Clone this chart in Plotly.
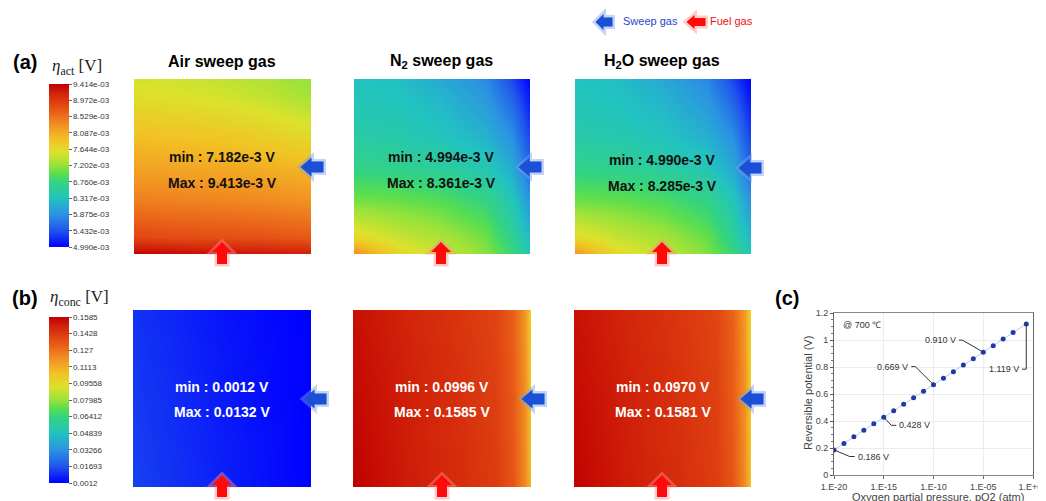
import plotly.graph_objects as go

W, H = 1046, 501          # size of the reference picture
OFF = 8                   # page body margin of the html page
FW, FH = W - OFF, H - OFF  # figure size so that it ends at the window edge

# ---------------- colour scale (rainbow, as in the colour bars) ----------------
RAINBOW = [
    [0.00, "#0000ff"], [0.10, "#1f55ec"], [0.20, "#2b93e2"], [0.30, "#22c3c0"],
    [0.40, "#34d47e"], [0.45, "#5ade4e"], [0.50, "#98e23a"], [0.58, "#dbe22c"],
    [0.66, "#f2c224"], [0.75, "#f28f22"], [0.85, "#e65216"], [0.94, "#d2240a"],
    [1.00, "#c00000"],
]

# ---------------- colour-bar ticks ----------------
ACT_TICKVALS = [4.990, 5.432, 5.875, 6.317, 6.760, 7.202, 7.644, 8.087, 8.529, 8.972, 9.414]  # mV
ACT_TICKTEXT = ["4.990e-03", "5.432e-03", "5.875e-03", "6.317e-03", "6.760e-03", "7.202e-03",
                "7.644e-03", "8.087e-03", "8.529e-03", "8.972e-03", "9.414e-03"]
CONC_TICKVALS = [0.0012, 0.01693, 0.03266, 0.04839, 0.06412, 0.07985, 0.09558, 0.1113, 0.127, 0.1428, 0.1585]
CONC_TICKTEXT = ["0.0012", "0.01693", "0.03266", "0.04839", "0.06412", "0.07985", "0.09558",
                 "0.1113", "0.127", "0.1428", "0.1585"]

# ---------------- activation overpotential maps (mV), rows bottom -> top ----------------
AIR_ACT_X = [0.0, 0.25, 0.5, 0.75, 1.0]
AIR_ACT_Y = [0.0, 0.1, 0.3, 0.5, 0.7, 0.9, 1.0]
AIR_ACT_Z = [
    [9.41, 9.35, 9.30, 9.25, 9.20],
    [8.85, 8.80, 8.78, 8.75, 8.70],
    [8.45, 8.42, 8.40, 8.36, 8.30],
    [8.15, 8.12, 8.10, 8.05, 7.98],
    [7.90, 7.86, 7.82, 7.74, 7.62],
    [7.62, 7.58, 7.52, 7.42, 7.28],
    [7.52, 7.48, 7.42, 7.32, 7.18],
]

N2_ACT_X = [0.0, 0.25, 0.5, 0.75, 0.9, 1.0]
N2_ACT_Y = [0.0, 0.1, 0.3, 0.5, 0.7, 0.9, 1.0]
N2_ACT_Z = [
    [8.36, 7.70, 7.45, 7.15, 6.80, 6.40],
    [7.70, 7.45, 7.30, 7.05, 6.65, 6.20],
    [7.10, 7.05, 6.95, 6.75, 6.40, 5.90],
    [6.70, 6.65, 6.55, 6.40, 6.08, 5.55],
    [6.48, 6.43, 6.33, 6.13, 5.82, 5.30],
    [6.38, 6.33, 6.18, 5.92, 5.52, 5.10],
    [6.33, 6.28, 6.08, 5.82, 5.36, 4.99],
]

H2O_ACT_X = [0.0, 0.25, 0.5, 0.75, 0.9, 1.0]
H2O_ACT_Y = [0.0, 0.1, 0.3, 0.5, 0.7, 0.9, 1.0]
H2O_ACT_Z = [
    [8.28, 7.66, 7.42, 7.12, 6.78, 6.38],
    [7.66, 7.42, 7.27, 7.02, 6.62, 6.18],
    [7.07, 7.02, 6.92, 6.72, 6.38, 5.88],
    [6.68, 6.63, 6.53, 6.38, 6.06, 5.53],
    [6.46, 6.41, 6.31, 6.11, 5.80, 5.28],
    [6.36, 6.31, 6.16, 5.90, 5.50, 5.08],
    [6.31, 6.26, 6.06, 5.80, 5.34, 4.99],
]

# ---------------- concentration overpotential maps (V) ----------------
AIR_CONC_X = [0.0, 0.5, 1.0]
AIR_CONC_Y = [0.0, 0.5, 1.0]
AIR_CONC_Z = [
    [0.0132, 0.0070, 0.0012],
    [0.0120, 0.0060, 0.0012],
    [0.0105, 0.0050, 0.0012],
]

N2_CONC_X = [0.0, 0.3, 0.6, 0.8, 0.9, 0.96, 1.0]
N2_CONC_Y = [0.0, 0.5, 1.0]
N2_CONC_Z = [
    [0.1585, 0.1515, 0.1465, 0.1420, 0.1345, 0.1220, 0.1060],
    [0.1565, 0.1505, 0.1455, 0.1410, 0.1330, 0.1205, 0.1030],
    [0.1545, 0.1490, 0.1440, 0.1395, 0.1315, 0.1185, 0.0996],
]

H2O_CONC_X = [0.0, 0.3, 0.6, 0.8, 0.9, 0.96, 1.0]
H2O_CONC_Y = [0.0, 0.5, 1.0]
H2O_CONC_Z = [
    [0.1581, 0.1510, 0.1460, 0.1415, 0.1338, 0.1210, 0.1035],
    [0.1560, 0.1500, 0.1450, 0.1405, 0.1322, 0.1195, 0.1005],
    [0.1540, 0.1485, 0.1435, 0.1390, 0.1305, 0.1175, 0.0970],
]

# ---------------- panel (c): reversible potential vs pO2 ----------------
PO2 = [1e-20, 1e-19, 1e-18, 1e-17, 1e-16, 1e-15, 1e-14, 1e-13, 1e-12, 1e-11,
       1e-10, 1e-9, 1e-8, 1e-7, 1e-6, 1e-5, 1e-4, 1e-3, 1e-2, 0.21]
EREV = [0.186, 0.234, 0.283, 0.331, 0.379, 0.428, 0.476, 0.524, 0.572, 0.621,
        0.669, 0.717, 0.765, 0.814, 0.862, 0.910, 0.958, 1.007, 1.055, 1.119]
C_XTICKVALS = [1e-20, 1e-15, 1e-10, 1e-5, 1.0]
C_XTICKTEXT = ["1.E-20", "1.E-15", "1.E-10", "1.E-05", "1.E+00"]
C_YTICKVALS = [0, 0.2, 0.4, 0.6, 0.8, 1.0, 1.2]
C_YTICKTEXT = ["0", "0.2", "0.4", "0.6", "0.8", "1", "1.2"]

MAP_TITLES = ["Air sweep gas", "N<sub>2</sub> sweep gas", "H<sub>2</sub>O sweep gas"]
ACT_MINMAX = [("7.182e-3", "9.413e-3"), ("4.994e-3", "8.361e-3"), ("4.990e-3", "8.285e-3")]
CONC_MINMAX = [("0.0012", "0.0132"), ("0.0996", "0.1585"), ("0.0970", "0.1581")]

FONT = "Arial, Liberation Sans, sans-serif"


def fx(p):
    return (p - OFF) / FW


def fy(p):
    return 1 - (p - OFF) / FH


fig = go.Figure()

# map placement (pixels in the reference): (left, right, top, bottom)
ACT_BOXES = [(134, 311, 79, 254), (354, 530, 79, 254), (575, 751, 79, 254)]
CONC_BOXES = [(133, 311, 310, 487), (353, 531, 310, 487), (574, 751, 310, 487)]

act_maps = [(AIR_ACT_X, AIR_ACT_Y, AIR_ACT_Z), (N2_ACT_X, N2_ACT_Y, N2_ACT_Z), (H2O_ACT_X, H2O_ACT_Y, H2O_ACT_Z)]
conc_maps = [(AIR_CONC_X, AIR_CONC_Y, AIR_CONC_Z), (N2_CONC_X, N2_CONC_Y, N2_CONC_Z), (H2O_CONC_X, H2O_CONC_Y, H2O_CONC_Z)]

axis_i = 0
layout_axes = {}
for row, (maps, boxes, zmin, zmax, tv, tt, cb_y, cb_len) in enumerate([
        (act_maps, ACT_BOXES, 4.990, 9.414, ACT_TICKVALS, ACT_TICKTEXT, 165.5, 163),
        (conc_maps, CONC_BOXES, 0.0012, 0.1585, CONC_TICKVALS, CONC_TICKTEXT, 400, 166)]):
    for k, ((xs, ys, zs), (l, r, t, b)) in enumerate(zip(maps, boxes)):
        axis_i += 1
        suffix = "" if axis_i == 1 else str(axis_i)
        show = (k == 0)
        fig.add_trace(go.Heatmap(
            x=xs, y=ys, z=zs, zmin=zmin, zmax=zmax, colorscale=RAINBOW,
            zsmooth="best", showscale=show, hoverinfo="skip",
            xaxis="x" + suffix, yaxis="y" + suffix,
            colorbar=dict(
                x=fx(49), xanchor="left", y=fy(cb_y), yanchor="middle",
                len=cb_len, lenmode="pixels", thickness=20, thicknessmode="pixels",
                xpad=0, ypad=0, outlinewidth=0,
                tickmode="array", tickvals=tv, ticktext=tt,
                ticks="outside", ticklen=3, tickcolor="#666",
                tickfont=dict(family=FONT, size=8, color="#333"),
            ) if show else None,
        ))
        layout_axes["xaxis" + suffix] = dict(domain=[fx(l), fx(r)], range=[0, 1], visible=False,
                                             anchor="y" + suffix, fixedrange=True)
        layout_axes["yaxis" + suffix] = dict(domain=[fy(b), fy(t)], range=[0, 1], visible=False,
                                             anchor="x" + suffix, fixedrange=True)

# panel (c)
fig.add_trace(go.Scatter(
    x=PO2, y=EREV, mode="lines+markers", xaxis="x7", yaxis="y7",
    line=dict(color="#b4c8ee", width=1),
    marker=dict(color="#1f3aa8", size=5), hoverinfo="skip",
))

LEADERS = [
    ([1e-20, 10 ** -18.43, 10 ** -17.92], [0.186, 0.137, 0.137]),
    ([1e-15, 10 ** -14.24, 10 ** -13.74], [0.428, 0.368, 0.368]),
    ([1e-10, 10 ** -11.83, 10 ** -12.23], [0.669, 0.803, 0.803]),
    ([1e-5, 10 ** -7.10, 10 ** -7.44], [0.910, 0.999, 0.999]),
    ([0.21, 0.21, 10 ** -1.11], [1.119, 0.784, 0.784]),
]
for lx, ly in LEADERS:
    fig.add_trace(go.Scatter(x=lx, y=ly, mode="lines", xaxis="x7", yaxis="y7",
                             line=dict(color="#333", width=1), hoverinfo="skip"))

layout_axes["xaxis7"] = dict(
    domain=[fx(834), fx(1033)], type="log", range=[-20, 0], anchor="y7",
    tickmode="array", tickvals=C_XTICKVALS, ticktext=C_XTICKTEXT,
    ticks="outside", ticklen=3, tickcolor="#666", ticklabeloverflow="allow",
    showgrid=True, gridcolor="#ececec", gridwidth=1,
    showline=True, linecolor="#888", linewidth=1, mirror=True, zeroline=False,
    tickfont=dict(family=FONT, size=9, color="#444"),
    automargin=False, fixedrange=True,
)
layout_axes["yaxis7"] = dict(
    domain=[fy(475), fy(313)], range=[0, 1.2], anchor="x7",
    tickmode="array", tickvals=C_YTICKVALS, ticktext=C_YTICKTEXT,
    ticks="outside", ticklen=3, tickcolor="#555",
    minor=dict(ticks="outside", ticklen=2, tickcolor="#777", dtick=0.05, showgrid=False),
    showgrid=True, gridcolor="#ececec", gridwidth=1,
    showline=True, linecolor="#666", linewidth=1, mirror=True, zeroline=False,
    tickfont=dict(family=FONT, size=9, color="#444"),
    automargin=False, fixedrange=True,
)

ann = []


def paper_text(txt, x, y, font, xanchor="center", angle=0):
    ann.append(dict(text=txt, x=fx(x), y=fy(y), xref="paper", yref="paper", xanchor=xanchor,
                    yanchor="middle", showarrow=False, font=font, textangle=angle))


# panel letters
for txt, x, y in [("(a)", 25, 62), ("(b)", 25, 298), ("(c)", 787, 298)]:
    paper_text("<b>" + txt + "</b>", x, y, dict(family=FONT, size=20, color="black"))
# colour-bar titles
SERIF = dict(family="Liberation Serif, DejaVu Serif, serif", size=17, color="#222")
paper_text("<i>η</i><sub>act</sub> [V]", 77, 67, SERIF)
paper_text("<i>η</i><sub>conc</sub> [V]", 80, 298, SERIF)
# map titles
for txt, cx in zip(MAP_TITLES, [222, 441, 662]):
    paper_text("<b>" + txt + "</b>", cx, 61, dict(family=FONT, size=16, color="black"))
# min / max labels
for (mn, mx), cx, y1, y2 in zip(ACT_MINMAX, [222, 441, 662], [157, 157, 160], [183, 183, 186]):
    paper_text("<b>min : %s V</b>" % mn, cx, y1, dict(family=FONT, size=14, color="#111"))
    paper_text("<b>Max : %s V</b>" % mx, cx, y2, dict(family=FONT, size=14, color="#111"))
for (mn, mx), cx in zip(CONC_MINMAX, [222, 442, 663]):
    paper_text("<b>min : %s V</b>" % mn, cx, 387, dict(family=FONT, size=14, color="white"))
    paper_text("<b>Max : %s V</b>" % mx, cx, 412, dict(family=FONT, size=14, color="white"))
# legend texts
paper_text("Sweep gas", 621, 21, dict(family=FONT, size=11, color="#1f45c8"), xanchor="left")
paper_text("Fuel gas", 708, 21, dict(family=FONT, size=11, color="#ee1010"), xanchor="left")
# axis titles of panel (c)
paper_text("Oxygen partial pressure, pO2 (atm)", 938, 497, dict(family=FONT, size=11, color="#444"))
paper_text("Reversible potential (V)", 808, 393, dict(family=FONT, size=11, color="#444"), angle=-90)

# panel (c) labels
CFONT = dict(family=FONT, size=9, color="#333")
for txt, lx, ly, anc in [("0.186 V", -17.8, 0.137, "left"), ("0.428 V", -13.62, 0.368, "left"),
                         ("0.669 V", -12.35, 0.803, "right"), ("0.910 V", -7.55, 0.999, "right"),
                         ("1.119 V", -1.25, 0.784, "right"), ("@ 700 ℃", -19.25, 1.109, "left")]:
    ann.append(dict(text=txt, x=lx, y=ly, xref="x7", yref="y7", xanchor=anc, yanchor="middle",
                    showarrow=False, font=CFONT))


# ---------------- arrows (decoration) ----------------
def left_arrow(cx, cy, w, h, head, body):
    x0 = cx - w / 2
    pts = [(x0, cy), (x0 + head, cy - h / 2), (x0 + head, cy - body / 2), (x0 + w, cy - body / 2),
           (x0 + w, cy + body / 2), (x0 + head, cy + body / 2), (x0 + head, cy + h / 2)]
    return "M " + " L ".join("%.5f,%.5f" % (fx(a), fy(b)) for a, b in pts) + " Z"


def up_arrow(cx, cy, w, h, head, body):
    y0 = cy - h / 2
    pts = [(cx, y0), (cx + w / 2, y0 + head), (cx + body / 2, y0 + head), (cx + body / 2, y0 + h),
           (cx - body / 2, y0 + h), (cx - body / 2, y0 + head), (cx - w / 2, y0 + head)]
    return "M " + " L ".join("%.5f,%.5f" % (fx(a), fy(b)) for a, b in pts) + " Z"


shapes = []


def add_arrow(path, fill, glow):
    shapes.append(dict(type="path", path=path, xref="paper", yref="paper",
                       fillcolor=glow, line=dict(color=glow, width=5), layer="above"))
    shapes.append(dict(type="path", path=path, xref="paper", yref="paper",
                       fillcolor=fill, line=dict(width=0), layer="above"))


BLUE, BLUE_GLOW = "#1a4fd6", "rgba(120,160,240,0.45)"
RED, RED_GLOW = "#ff0a0a", "rgba(255,140,140,0.45)"
for cx, cy in [(312, 167), (530, 167), (750, 168), (315, 399), (533, 399), (752, 399)]:
    add_arrow(left_arrow(cx, cy, 23, 19, 11, 11), BLUE, BLUE_GLOW)
for cx, cy in [(222, 253), (441, 253), (662, 253), (222, 486), (442, 486), (662, 486)]:
    add_arrow(up_arrow(cx, cy, 20, 22, 10, 10), RED, RED_GLOW)
add_arrow(left_arrow(604, 22, 17, 16, 8, 9), BLUE, BLUE_GLOW)
add_arrow(left_arrow(696, 22, 19, 14, 8, 8), RED, RED_GLOW)

fig.update_layout(
    width=FW, height=FH, margin=dict(l=0, r=0, t=0, b=0, pad=0, autoexpand=False),
    paper_bgcolor="white", plot_bgcolor="white", showlegend=False,
    annotations=ann, shapes=shapes, **layout_axes,
)

fig.write_html("out.html")
